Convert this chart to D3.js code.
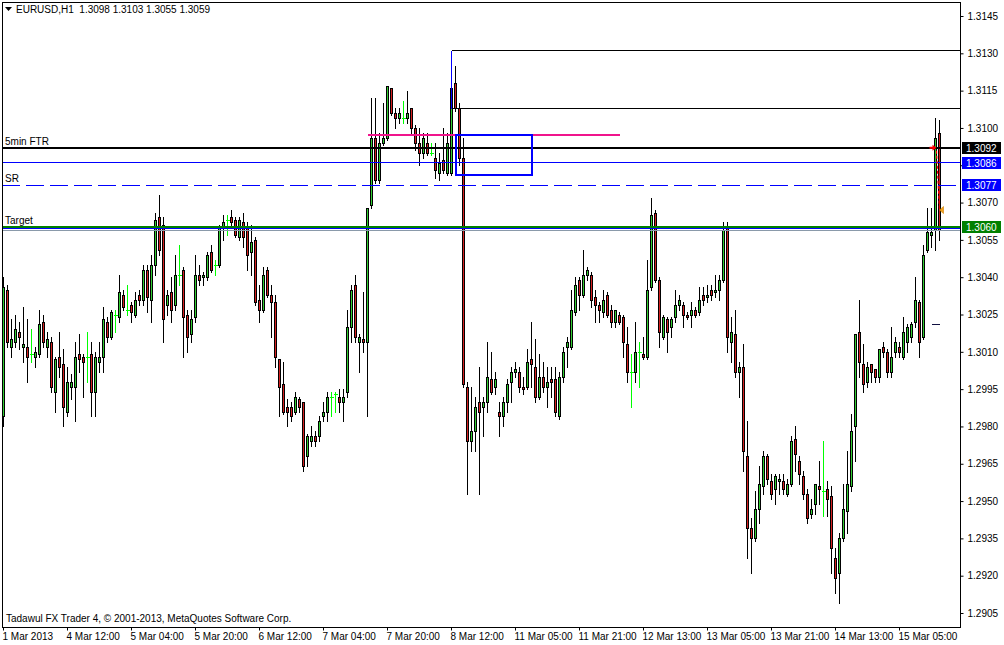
<!DOCTYPE html>
<html><head><meta charset="utf-8">
<script src="https://cdn.jsdelivr.net/npm/d3@7"></script>
<style>
html,body{margin:0;padding:0;background:#fff;}
svg{display:block;font-family:"Liberation Sans",Arial,sans-serif;}
</style></head><body>
<svg id="c" width="1004" height="645"></svg>
<script>
const symbol = "EURUSD", period = "H1";
const open = [
1.2984,1.3035,1.3012,1.3014,1.3018,1.3012,1.3012,1.3009,1.3008,1.3009,
1.3022,1.3012,1.3014,1.2994,1.3008,1.3005,1.2986,1.2996,1.2996,1.3009,
1.3008,1.3008,1.3009,1.2994,1.3006,1.3008,1.3022,1.3016,1.3025,1.3024,
1.3033,1.3027,1.3029,1.3025,1.3033,1.3031,1.3043,1.3031,1.3045,1.3064,
1.3061,1.3029,1.3034,1.3029,1.3041,1.3043,1.3025,1.3017,1.3024,1.3041,
1.3040,1.3040,1.3050,1.3045,1.3045,1.3060,1.3063,1.3064,1.3063,1.3056,
1.3062,1.3060,1.3050,1.3055,1.3031,1.3027,1.3043,1.3033,1.3030,1.3007,
1.2997,1.2988,1.2988,1.2986,1.2991,1.2990,1.2968,1.2974,1.2976,1.2976,
1.2984,1.2986,1.2992,1.2993,1.2992,1.2990,1.2994,1.3020,1.3037,1.3014,
1.3015,1.3014,1.3069,1.3096,1.3079,1.3094,1.3096,1.3116,1.3106,1.3104,
1.3104,1.3104,1.3108,1.3100,1.3094,1.3090,1.3094,1.3090,1.3088,1.3082,
1.3087,1.3082,1.3082,1.3118,1.3108,1.3088,1.2996,1.2974,1.2978,1.2990,
1.2988,1.2990,1.2999,1.2996,1.2986,1.2984,1.2990,1.2998,1.3002,1.3002,
1.2996,1.2996,1.3007,1.3004,1.2992,1.3000,1.2996,1.2999,1.2999,1.2984,
1.3000,1.3012,1.3012,1.3026,1.3039,1.3033,1.3041,1.3041,1.3032,1.3029,
1.3026,1.3033,1.3027,1.3022,1.3025,1.3024,1.3013,1.3002,1.3002,1.3010,
1.3009,1.3008,1.3036,1.3066,1.3039,1.3016,1.3023,1.3020,1.3024,1.3029,
1.3029,1.3025,1.3025,1.3027,1.3026,1.3033,1.3032,1.3035,1.3034,1.3035,
1.3039,1.3060,1.3014,1.3017,1.3002,1.3004,1.2968,1.2939,1.2935,1.2947,
1.2956,1.2968,1.2958,1.2955,1.2958,1.2958,1.2953,1.2957,1.2975,1.2966,
1.2960,1.2953,1.2945,1.2949,1.2956,1.2954,1.2955,1.2952,1.2927,1.2921,
1.2935,1.2946,1.2956,1.2980,1.3018,1.3005,1.2998,1.3005,1.3003,1.3000,
1.3012,1.3010,1.3002,1.3010,1.3012,1.3008,1.3014,1.3016,1.3022,1.3030,
1.3016,1.3051,1.3057,1.3059,1.3098];
const high = [
1.3040,1.3037,1.3023,1.3025,1.3022,1.3028,1.3023,1.3019,1.3012,1.3027,
1.3025,1.3018,1.3016,1.3008,1.3018,1.3011,1.3004,1.3001,1.3014,1.3017,
1.3009,1.3018,1.3014,1.3010,1.3014,1.3028,1.3024,1.3027,1.3027,1.3041,
1.3035,1.3037,1.3030,1.3034,1.3035,1.3045,1.3045,1.3049,1.3066,1.3073,
1.3064,1.3035,1.3040,1.3049,1.3053,1.3044,1.3027,1.3027,1.3049,1.3045,
1.3042,1.3050,1.3053,1.3047,1.3061,1.3065,1.3065,1.3067,1.3064,1.3064,
1.3066,1.3062,1.3061,1.3056,1.3037,1.3044,1.3044,1.3037,1.3033,1.3007,
1.3006,1.2991,1.2990,1.2994,1.2992,1.2990,1.2977,1.2980,1.2978,1.2984,
1.2990,1.2994,1.2994,1.2994,1.2995,1.2995,1.3027,1.3037,1.3041,1.3017,
1.3034,1.3068,1.3112,1.3112,1.3098,1.3110,1.3117,1.3116,1.3108,1.3108,
1.3111,1.3115,1.3108,1.3101,1.3100,1.3098,1.3098,1.3094,1.3094,1.3090,
1.3100,1.3098,1.3116,1.3125,1.3110,1.3096,1.2998,1.2996,1.2992,1.3004,
1.2992,1.3014,1.3010,1.3002,1.2990,1.2992,1.2999,1.3004,1.3006,1.3004,
1.3000,1.3011,1.3022,1.3015,1.3009,1.3006,1.3004,1.3004,1.3004,1.3002,
1.3012,1.3016,1.3035,1.3040,1.3040,1.3051,1.3044,1.3042,1.3035,1.3030,
1.3035,1.3034,1.3029,1.3027,1.3026,1.3025,1.3020,1.3009,1.3022,1.3014,
1.3016,1.3047,1.3072,1.3067,1.3040,1.3025,1.3024,1.3024,1.3035,1.3033,
1.3030,1.3026,1.3030,1.3028,1.3036,1.3036,1.3037,1.3037,1.3041,1.3041,
1.3062,1.3062,1.3024,1.3027,1.3006,1.3013,1.2982,1.2943,1.2954,1.2964,
1.2970,1.2969,1.2961,1.2961,1.2961,1.2961,1.2959,1.2976,1.2980,1.2968,
1.2962,1.2955,1.2951,1.2957,1.2966,1.2974,1.2958,1.2956,1.2931,1.2937,
1.2957,1.2970,1.2985,1.3017,1.3031,1.3013,1.3006,1.3005,1.3003,1.3011,
1.3014,1.3011,1.3020,1.3016,1.3014,1.3024,1.3021,1.3022,1.3040,1.3031,
1.3053,1.3068,1.3068,1.3104,1.3103];
const low = [
1.2980,1.3012,1.3008,1.3012,1.3011,1.3006,1.2998,1.3006,1.3004,1.3008,
1.3012,1.3008,1.2994,1.2986,1.3000,1.2980,1.2984,1.2991,1.2982,1.3002,
1.2992,1.2998,1.2984,1.2984,1.3002,1.3002,1.3014,1.3015,1.3018,1.3022,
1.3027,1.3025,1.3022,1.3024,1.3029,1.3029,1.3026,1.3022,1.3041,1.3049,
1.3014,1.3025,1.3022,1.3027,1.3037,1.3008,1.3010,1.3014,1.3022,1.3037,
1.3037,1.3039,1.3042,1.3041,1.3044,1.3055,1.3057,1.3061,1.3056,1.3055,
1.3052,1.3043,1.3041,1.3029,1.3022,1.3026,1.3032,1.3016,1.3004,1.2984,
1.2985,1.2980,1.2982,1.2985,1.2986,1.2962,1.2964,1.2972,1.2972,1.2974,
1.2982,1.2982,1.2984,1.2986,1.2986,1.2982,1.2992,1.3014,1.3014,1.3002,
1.3010,1.2984,1.3068,1.3078,1.3078,1.3093,1.3095,1.3105,1.3100,1.3102,
1.3102,1.3102,1.3098,1.3091,1.3085,1.3088,1.3089,1.3089,1.3080,1.3079,
1.3082,1.3081,1.3081,1.3107,1.3085,1.2996,1.2953,1.2970,1.2970,1.2953,
1.2976,1.2986,1.2993,1.2993,1.2976,1.2980,1.2986,1.2990,1.3000,1.2994,
1.2993,1.2995,1.2996,1.2990,1.2991,1.2994,1.2988,1.2992,1.2984,1.2983,
1.2998,1.3004,1.3011,1.3025,1.3027,1.3032,1.3039,1.3028,1.3022,1.3022,
1.3024,1.3024,1.3020,1.3020,1.3021,1.3008,1.2998,1.2988,1.2998,1.2996,
1.3007,1.3007,1.3035,1.3038,1.3012,1.3015,1.3010,1.3016,1.3022,1.3027,
1.3020,1.3023,1.3020,1.3024,1.3025,1.3029,1.3030,1.3031,1.3032,1.3031,
1.3038,1.3010,1.3006,1.3000,1.2992,1.2962,1.2927,1.2921,1.2934,1.2941,
1.2953,1.2957,1.2951,1.2949,1.2953,1.2953,1.2952,1.2956,1.2962,1.2957,
1.2951,1.2941,1.2943,1.2945,1.2949,1.2944,1.2944,1.2921,1.2913,1.2909,
1.2934,1.2937,1.2954,1.2966,1.3000,1.2994,1.2996,1.2998,1.2998,1.2998,
1.3008,1.3000,1.3000,1.3008,1.3008,1.3007,1.3010,1.3014,1.3020,1.3008,
1.3015,1.3050,1.3052,1.3051,1.3055];
const close = [
1.3036,1.3014,1.3015,1.3019,1.3016,1.3013,1.3008,1.3009,1.3010,1.3021,
1.3014,1.3015,1.2996,1.3007,1.3004,1.2988,1.2998,1.2998,1.3008,1.3007,
1.3006,1.3008,1.2994,1.3008,1.3008,1.3023,1.3016,1.3026,1.3025,1.3034,
1.3028,1.3027,1.3026,1.3031,1.3031,1.3043,1.3032,1.3045,1.3063,1.3051,
1.3023,1.3033,1.3027,1.3041,1.3041,1.3024,1.3016,1.3023,1.3041,1.3039,
1.3041,1.3049,1.3043,1.3045,1.3060,1.3062,1.3063,1.3062,1.3057,1.3063,
1.3056,1.3049,1.3054,1.3030,1.3027,1.3041,1.3033,1.3030,1.3008,1.2996,
1.2986,1.2986,1.2984,1.2992,1.2988,1.2964,1.2976,1.2976,1.2974,1.2982,
1.2986,1.2992,1.2992,1.2993,1.2990,1.2992,1.3020,1.3035,1.3016,1.3016,
1.3014,1.3068,1.3096,1.3079,1.3094,1.3096,1.3117,1.3106,1.3104,1.3106,
1.3104,1.3106,1.3100,1.3094,1.3090,1.3096,1.3090,1.3090,1.3083,1.3086,
1.3083,1.3094,1.3116,1.3108,1.3088,1.2997,1.2974,1.2978,1.2988,1.2986,
1.2990,1.3000,1.2994,1.2999,1.2984,1.2990,1.2997,1.3002,1.3003,1.2996,
1.2995,1.3006,1.3005,1.2992,1.3000,1.2996,1.2998,1.2998,1.2986,1.3000,
1.3010,1.3014,1.3027,1.3037,1.3033,1.3041,1.3043,1.3031,1.3029,1.3027,
1.3031,1.3025,1.3022,1.3027,1.3022,1.3014,1.3002,1.3002,1.3010,1.3010,
1.3008,1.3035,1.3065,1.3039,1.3018,1.3024,1.3018,1.3023,1.3029,1.3031,
1.3025,1.3024,1.3027,1.3025,1.3031,1.3031,1.3033,1.3033,1.3035,1.3039,
1.3059,1.3016,1.3018,1.3002,1.3004,1.2970,1.2939,1.2935,1.2947,1.2957,
1.2968,1.2959,1.2953,1.2960,1.2959,1.2955,1.2957,1.2974,1.2969,1.2961,
1.2953,1.2943,1.2947,1.2957,1.2955,1.2954,1.2951,1.2931,1.2919,1.2935,
1.2947,1.2957,1.2978,1.3017,1.3006,1.2997,1.3004,1.3002,1.3000,1.3011,
1.3010,1.3002,1.3008,1.3014,1.3010,1.3018,1.3020,1.3021,1.3031,1.3014,
1.3049,1.3058,1.3058,1.3096,1.3059];

const priceTicks = [1.3145,1.3130,1.3115,1.3100,1.3085,1.3070,1.3055,1.3040,1.3025,1.3010,1.2995,1.2980,1.2965,1.2950,1.2935,1.2920,1.2905];
const timeLabels = ["1 Mar 2013","4 Mar 12:00","5 Mar 04:00","5 Mar 20:00","6 Mar 12:00","7 Mar 04:00","7 Mar 20:00","8 Mar 12:00","11 Mar 05:00","11 Mar 21:00","12 Mar 13:00","13 Mar 05:00","13 Mar 21:00","14 Mar 13:00","15 Mar 05:00"];
const timeLabelBars = [0,16,32,48,64,80,96,112,128,144,160,176,192,208,224];

// horizontal levels
const levelNames = ["5min FTR","","SR","Target"];
const levelPrices = [1.3092,1.3086,1.3077,1.3060];
const levelColors = ["#000000","#0000ff","#0000ff","#008000"];
const levelWidths = [2,1,1,2];
const levelDash = [null,null,"18,6",null];
const askPrice = 1.30595, bidPrice = 1.3059;
// other objects (prices / bar indices)
const magentaLine = {price:1.3097, fromBar:91, toBar:154};
const blueRect = {fromBar:113, toBar:132, top:1.3097, bottom:1.3081};
const upperLines = {bar:112, top:1.3131, lower:1.3108};
const shortDash = {price:1.3021, fromBar:232, toBar:234};
const trade = {openBar:233, openPrice:1.3092, closeBar:234, closePrice:1.3067};
const copyright = "Tadawul FX Trader 4, \u00a9 2001-2013, MetaQuotes Software Corp.";

const n = open.length;
const W = 1004, H = 645;
const L = 2, R = 960, T = 2, B = 627;
const svg = d3.select("#c");
svg.append("rect").attr("width",W).attr("height",H).attr("fill","#fff");

const x = d3.scaleBand().domain(d3.range(n)).range([1.5, 1.5 + 4*n]).padding(0);
const cx = i => x(i) + x.bandwidth()/2;
const y = d3.scaleLinear().domain([1.2905,1.3145]).range([613,16]);
const fmt = d3.format(".4f");
const crisp = v => Math.floor(v) + 0.5;

// candles
const bars = d3.range(n).map(i => ({i, o:open[i], h:high[i], l:low[i], c:close[i]}));
const gC = svg.append("g").attr("shape-rendering","crispEdges");
bars.forEach(d => {
  const xc = crisp(cx(d.i));
  const yh = Math.round(y(d.h)), yl = Math.round(y(d.l));
  if (d.o === d.c) {
    const yo = Math.round(y(d.o));
    gC.append("line").attr("x1",xc).attr("x2",xc).attr("y1",yh).attr("y2",yl+1).attr("stroke","#00ff00");
    gC.append("line").attr("x1",xc-2).attr("x2",xc+2).attr("y1",yo+0.5).attr("y2",yo+0.5).attr("stroke","#00ff00");
    return;
  }
  gC.append("line").attr("x1",xc).attr("x2",xc).attr("y1",yh).attr("y2",yl+1).attr("stroke","#000");
  const yt = Math.round(y(Math.max(d.o,d.c))), yb = Math.round(y(Math.min(d.o,d.c)));
  gC.append("rect").attr("x",xc-1).attr("y",yt+0.5).attr("width",2).attr("height",Math.max(yb-yt,1))
    .attr("fill", d.c > d.o ? "#32cd32" : "#d42020").attr("stroke","#000").attr("stroke-width",1);
});

// objects
const gO = svg.append("g").attr("shape-rendering","crispEdges");
// upper lines
gO.append("line").attr("x1",crisp(cx(upperLines.bar))).attr("x2",R).attr("y1",crisp(y(upperLines.top))).attr("y2",crisp(y(upperLines.top))).attr("stroke","#000");
gO.append("line").attr("x1",crisp(cx(upperLines.bar))).attr("x2",R).attr("y1",crisp(y(upperLines.lower))).attr("y2",crisp(y(upperLines.lower))).attr("stroke","#000");
gO.append("line").attr("x1",crisp(cx(upperLines.bar))).attr("x2",crisp(cx(upperLines.bar))).attr("y1",crisp(y(upperLines.top))).attr("y2",crisp(y(upperLines.lower))).attr("stroke","#0000ff");

// levels
levelPrices.forEach((p,k) => {
  const yy = levelWidths[k] === 2 ? Math.round(y(p)) : crisp(y(p));
  const ln = gO.append("line").attr("x1",L).attr("x2",R).attr("y1",yy).attr("y2",yy)
    .attr("stroke",levelColors[k]).attr("stroke-width",levelWidths[k]);
  if (levelDash[k]) ln.attr("stroke-dasharray",levelDash[k]);
});
gO.append("line").attr("x1",L).attr("x2",R).attr("y1",crisp(y(askPrice))).attr("y2",crisp(y(askPrice))).attr("stroke","#0000ff");
gO.append("line").attr("x1",L).attr("x2",R).attr("y1",crisp(y(bidPrice))+1).attr("y2",crisp(y(bidPrice))+1).attr("stroke","#8a9aaa");

// magenta line
gO.append("line").attr("x1",cx(magentaLine.fromBar)).attr("x2",cx(magentaLine.toBar))
  .attr("y1",Math.round(y(magentaLine.price))).attr("y2",Math.round(y(magentaLine.price)))
  .attr("stroke","#f0148c").attr("stroke-width",2);
// blue rectangle
gO.append("rect").attr("x",Math.round(cx(blueRect.fromBar))).attr("y",Math.round(y(blueRect.top)))
  .attr("width",cx(blueRect.toBar)-cx(blueRect.fromBar)).attr("height",y(blueRect.bottom)-y(blueRect.top))
  .attr("fill","none").attr("stroke","#0000ff").attr("stroke-width",2);
// short dash
gO.append("line").attr("x1",cx(shortDash.fromBar)).attr("x2",cx(shortDash.toBar))
  .attr("y1",crisp(y(shortDash.price))).attr("y2",crisp(y(shortDash.price))).attr("stroke","#101040");

// trade markers
const tx1 = cx(trade.openBar), ty1 = y(trade.openPrice), tx2 = cx(trade.closeBar), ty2 = y(trade.closePrice);
svg.append("line").attr("x1",tx1+1).attr("y1",ty1+3).attr("x2",tx2).attr("y2",ty2)
  .attr("stroke","#ff0000").attr("stroke-width",1.2).attr("stroke-dasharray","3,2");
svg.append("path").attr("d",`M${tx1-6},${ty1-1} h3 v-2 l4,3 l-4,3 v-2 h-3 z`).attr("fill","#ff0000");
svg.append("path").attr("d",`M${tx2},${ty2} l4,-3.5 v7 z`).attr("fill","#f0a020").attr("stroke","#d08000").attr("stroke-width",0.6);

// level labels on chart
levelPrices.forEach((p,k) => {
  if (!levelNames[k]) return;
  svg.append("text").attr("x",5).attr("y",Math.round(y(p))-3).attr("font-size",10).attr("fill","#000").text(levelNames[k]);
});

// frame
svg.append("rect").attr("x",L+0.5).attr("y",T+0.5).attr("width",R-L).attr("height",B-T)
  .attr("fill","none").attr("stroke","#000").attr("shape-rendering","crispEdges");

// right axis
const yAxis = d3.axisRight(y).tickValues(priceTicks).tickSize(3).tickPadding(4).tickFormat(fmt);
const gy = svg.append("g").attr("transform",`translate(${R+0.5},0)`).call(yAxis);
gy.select(".domain").remove();
gy.selectAll("text").attr("font-size",10).attr("font-family","Liberation Sans, Arial, sans-serif").attr("fill","#000");
gy.selectAll("line").attr("stroke","#000");

// bottom axis
const xAxis = d3.axisBottom(x).tickValues(timeLabelBars).tickSize(3).tickPadding(2).tickFormat((d,k)=>timeLabels[k]);
const gx = svg.append("g").attr("transform",`translate(0,${B+0.5})`).call(xAxis);
gx.select(".domain").remove();
gx.selectAll("text").attr("font-size",10).attr("font-family","Liberation Sans, Arial, sans-serif").attr("fill","#000")
  .attr("text-anchor","start").attr("x",-1);
gx.selectAll("line").attr("stroke","#000");

// price boxes on right axis
levelPrices.forEach((p,k) => {
  const yy = Math.round(y(p));
  svg.append("rect").attr("x",R+2).attr("y",yy-6).attr("width",39).attr("height",12).attr("fill",levelColors[k]);
  svg.append("text").attr("x",R+6).attr("y",yy+4).attr("font-size",10).attr("fill","#fff").text(fmt(p));
});

// header
const last = n-1;
svg.append("path").attr("d","M5,7 h7 l-3.5,4 z").attr("fill","#000");
svg.append("text").attr("x",16).attr("y",13).attr("font-size",10).attr("fill","#000").attr("xml:space","preserve")
  .text(`${symbol},${period}  ${fmt(open[last])} ${fmt(high[last])} ${fmt(low[last])} ${fmt(close[last])}`);
// copyright
svg.append("text").attr("x",6).attr("y",622).attr("font-size",10).attr("fill","#000").text(copyright);
</script>
</body></html>
